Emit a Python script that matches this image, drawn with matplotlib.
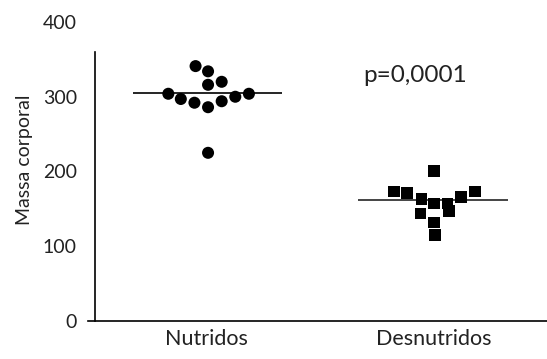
import matplotlib
matplotlib.use("Agg")
import matplotlib.pyplot as plt
import numpy as np

plt.rcParams['font.family'] = ['Lato', 'DejaVu Sans']

categories = ["Nutridos", "Desnutridos"]
nutridos = [341, 334, 316, 320, 304, 297, 292, 286, 294, 300, 304, 225]
nutridos_dx = [-0.05, 0.005, 0.005, 0.065, -0.17, -0.115, -0.055, 0.005, 0.065, 0.125, 0.185, 0.005]
desnutridos = [201, 173, 171, 163, 157, 157, 166, 173, 144, 147, 132, 115]
desnutridos_dx = [0.0, -0.175, -0.12, -0.055, 0.0, 0.06, 0.12, 0.18, -0.06, 0.065, 0.0, 0.005]
medias = [305, 162]
p_text = "p=0,0001"

fig = plt.figure(figsize=(5.47, 3.59), dpi=100)
ax = fig.add_axes([95/547, 38/359, 452/547, 299/359])

ax.scatter(np.zeros(len(nutridos)) + nutridos_dx, nutridos, marker='o', s=75,
           color='black', edgecolors='none', zorder=3)
ax.scatter(np.ones(len(desnutridos)) + desnutridos_dx, desnutridos, marker='s', s=70,
           color='black', edgecolors='none', zorder=3)

ax.hlines(medias[0], -0.326, 0.331, color='black', lw=1.2, zorder=2)
ax.hlines(medias[1], 0.666, 1.326, color='#444444', lw=1.4, zorder=2)

ax.text(0.688, 329, p_text, fontsize=17.5, color='#222222', va='center', ha='left')

ax.set_xlim(-0.493, 1.498)
ax.set_ylim(0, 400)
ax.set_xticks([0, 1])
ax.set_xticklabels(categories, fontsize=15.5, color='#222222')
ax.set_yticks([0, 100, 200, 300, 400])
ax.set_yticklabels(['0', '100', '200', '300', '400'], fontsize=14, color='#222222')
ax.tick_params(axis='both', length=0)
ax.tick_params(axis='y', pad=13)
ax.tick_params(axis='x', pad=6)

ax.spines['top'].set_visible(False)
ax.spines['right'].set_visible(False)
ax.spines['left'].set_bounds(0, 360)
ax.spines['bottom'].set_bounds(-0.525, 1.498)
ax.spines['left'].set_linewidth(1.2)
ax.spines['bottom'].set_linewidth(1.2)

ax.set_ylabel("Massa corporal", fontsize=14, color='#222222')
ax.yaxis.set_label_coords(-0.137, 0.538)

fig.savefig("out.png", dpi=100)
